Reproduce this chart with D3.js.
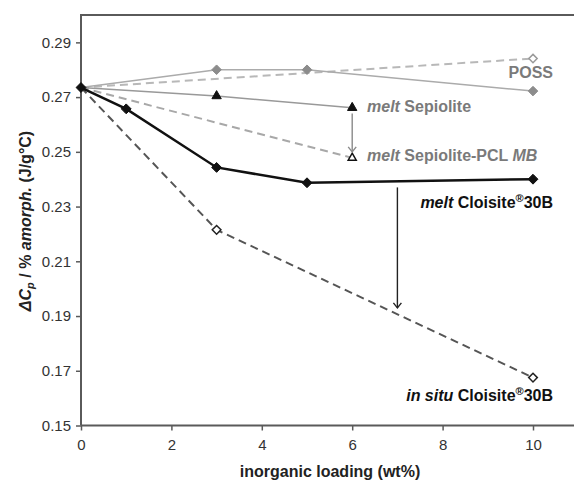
<!DOCTYPE html>
<html>
<head>
<meta charset="utf-8">
<script src="https://cdn.jsdelivr.net/npm/d3@7"></script>
<style>
  html, body { margin: 0; padding: 0; background: #fff; }
  svg { display: block; font-family: "Liberation Sans", Arial, Helvetica, sans-serif; }
</style>
</head>
<body>
<svg id="chart" width="574" height="484"></svg>
<script>
// Heat-capacity step per amorphous fraction vs. inorganic loading
const xTicks = [0, 2, 4, 6, 8, 10];
const yTicks = [0.15, 0.17, 0.19, 0.21, 0.23, 0.25, 0.27, 0.29];

const possMeltX = [0, 3, 5, 10];
const possMeltY = [0.2735, 0.2800, 0.2800, 0.2722];

const possInsituX = [0, 10];
const possInsituY = [0.2735, 0.2841];

const sepMeltX = [0, 3, 6];
const sepMeltY = [0.2735, 0.2704, 0.2661];

const sepMbX = [0, 6];
const sepMbY = [0.2735, 0.2478];

const cloMeltX = [0, 1, 3, 5, 10];
const cloMeltY = [0.2735, 0.2657, 0.2443, 0.2387, 0.2400];

const cloInsituX = [0, 3, 10];
const cloInsituY = [0.2735, 0.2215, 0.1675];

// arrows: [x, yFrom, yTo]
const sepArrow = [6, 0.2640, 0.2500];
const cloArrow = [7, 0.2370, 0.1930];

const svg = d3.select("#chart");
const W = 574;

const x = d3.scaleLinear().domain([0, 10]).range([81, 533]);
const y = d3.scaleLinear().domain([0.15, 0.30]).range([425.5, 15]);

const zip = (xs, ys) => xs.map((v, i) => [v, ys[i]]);
const line = d3.line().x(d => x(d[0])).y(d => y(d[1]));

// arrowhead markers
const defs = svg.append("defs");
function arrowMarker(id, color) {
  defs.append("marker")
    .attr("id", id)
    .attr("viewBox", "-6 -5 7 10")
    .attr("refX", 0).attr("refY", 0)
    .attr("markerWidth", 7).attr("markerHeight", 10)
    .attr("markerUnits", "userSpaceOnUse")
    .attr("orient", "auto")
    .append("path")
    .attr("d", "M-5,-4 L0,0 L-5,4")
    .attr("fill", "none")
    .attr("stroke", color)
    .attr("stroke-width", 1.4);
}
arrowMarker("arrGray", "#8a8a8a");
arrowMarker("arrBlack", "#222");

// frame: top border and axes
const axisColor = "#5a5a5a";
svg.append("line")
  .attr("x1", x(0)).attr("x2", W).attr("y1", y(0.30)).attr("y2", y(0.30))
  .attr("stroke", axisColor).attr("stroke-width", 2);

const gx = svg.append("g").attr("transform", `translate(0,${y(0.15)})`)
  .call(d3.axisBottom(x).tickValues(xTicks).tickSize(5).tickSizeOuter(0).tickPadding(9));
gx.select(".domain").remove();
gx.append("line").attr("x1", x(0)).attr("x2", W).attr("stroke", axisColor).attr("stroke-width", 2);

const gy = svg.append("g").attr("transform", `translate(${x(0)},0)`)
  .call(d3.axisLeft(y).tickValues(yTicks).tickFormat(d3.format(".2f")).tickSize(5).tickSizeOuter(0).tickPadding(5));
gy.select(".domain").remove();
gy.append("line").attr("y1", y(0.15)).attr("y2", y(0.30) - 1).attr("stroke", axisColor).attr("stroke-width", 2);

svg.selectAll(".tick line").attr("stroke", axisColor).attr("stroke-width", 1.5);
svg.selectAll(".tick text").attr("fill", "#333").attr("font-size", 15)
  .attr("font-family", "'Liberation Sans', Arial, sans-serif");

// axis titles
svg.append("text")
  .attr("x", 330).attr("y", 477)
  .attr("text-anchor", "middle")
  .attr("font-size", 16).attr("font-weight", "bold").attr("fill", "#222")
  .text("inorganic loading (wt%)");

const yt = svg.append("text")
  .attr("transform", "translate(31,221) rotate(-90)")
  .attr("text-anchor", "middle")
  .attr("font-size", 16).attr("font-weight", "bold").attr("fill", "#222");
yt.append("tspan").attr("font-style", "italic").text("ΔC");
yt.append("tspan").attr("font-style", "italic").attr("font-size", 11).attr("dy", 3).text("p");
yt.append("tspan").attr("dy", -3).text(" / % ");
yt.append("tspan").attr("font-style", "italic").text("amorph.");
yt.append("tspan").text(" (J/g°C)");

// series lines
function drawLine(xs, ys, color, width, dash) {
  svg.append("path")
    .datum(zip(xs, ys))
    .attr("d", line)
    .attr("fill", "none")
    .attr("stroke", color)
    .attr("stroke-width", width)
    .attr("stroke-dasharray", dash || null);
}
drawLine(possInsituX, possInsituY, "#b8b8b8", 2, "8,5");
drawLine(possMeltX, possMeltY, "#ababab", 1.5);
drawLine(sepMbX, sepMbY, "#a8a8a8", 2, "8,5");
drawLine(sepMeltX, sepMeltY, "#999", 1.5);
drawLine(cloInsituX, cloInsituY, "#555", 2, "8,5");
drawLine(cloMeltX, cloMeltY, "#111", 2.5);

// markers
const diamond = d3.symbol().type(d3.symbolDiamond2);
const triangle = d3.symbol().type(d3.symbolTriangle);
function drawMarks(xs, ys, sym, size, fill, stroke, sw, skipFirst) {
  const pts = zip(xs, ys).slice(skipFirst ? 1 : 0);
  svg.append("g").selectAll("path").data(pts).join("path")
    .attr("transform", d => `translate(${x(d[0])},${y(d[1])})`)
    .attr("d", sym.size(size)())
    .attr("fill", fill)
    .attr("stroke", stroke)
    .attr("stroke-width", sw);
}
drawMarks(possInsituX, possInsituY, diamond, 44, "#fff", "#999", 1.5, true);
drawMarks(possMeltX, possMeltY, diamond, 58, "#8c8c8c", "#8c8c8c", 1, true);
drawMarks(sepMbX, sepMbY, triangle, 28, "#fff", "#111", 1.5, true);
drawMarks(sepMeltX, sepMeltY, triangle, 38, "#111", "#111", 1, true);
drawMarks(cloInsituX, cloInsituY, diamond, 48, "#fff", "#222", 1.5, true);
drawMarks(cloMeltX, cloMeltY, diamond, 62, "#111", "#111", 1, false);

// arrows
svg.append("line")
  .attr("x1", x(sepArrow[0])).attr("x2", x(sepArrow[0]))
  .attr("y1", y(sepArrow[1])).attr("y2", y(sepArrow[2]))
  .attr("stroke", "#8a8a8a").attr("stroke-width", 1.4)
  .attr("marker-end", "url(#arrGray)");
svg.append("line")
  .attr("x1", x(cloArrow[0])).attr("x2", x(cloArrow[0]))
  .attr("y1", y(cloArrow[1])).attr("y2", y(cloArrow[2]))
  .attr("stroke", "#222").attr("stroke-width", 1.4)
  .attr("marker-end", "url(#arrBlack)");

// series labels
function label(px, py, anchor, color, parts) {
  const t = svg.append("text")
    .attr("x", px).attr("y", py)
    .attr("text-anchor", anchor)
    .attr("font-size", 16).attr("font-weight", "bold").attr("fill", color);
  parts.forEach(p => {
    const s = t.append("tspan").text(p.t);
    if (p.i) s.attr("font-style", "italic");
    if (p.sup) s.attr("font-size", 11).attr("dy", -6);
    if (p.down) s.attr("dy", 6);
  });
}
label(553, 78, "end", "#7a7a7a", [{t: "POSS"}]);
label(367, 112, "start", "#7a7a7a", [{t: "melt", i: true}, {t: " Sepiolite"}]);
label(367, 161, "start", "#7a7a7a", [{t: "melt", i: true}, {t: " Sepiolite-PCL "}, {t: "MB", i: true}]);
label(553, 208, "end", "#111", [{t: "melt", i: true}, {t: " Cloisite"}, {t: "®", sup: true}, {t: "30B", down: true}]);
label(553, 401, "end", "#111", [{t: "in situ", i: true}, {t: " Cloisite"}, {t: "®", sup: true}, {t: "30B", down: true}]);
</script>
</body>
</html>
